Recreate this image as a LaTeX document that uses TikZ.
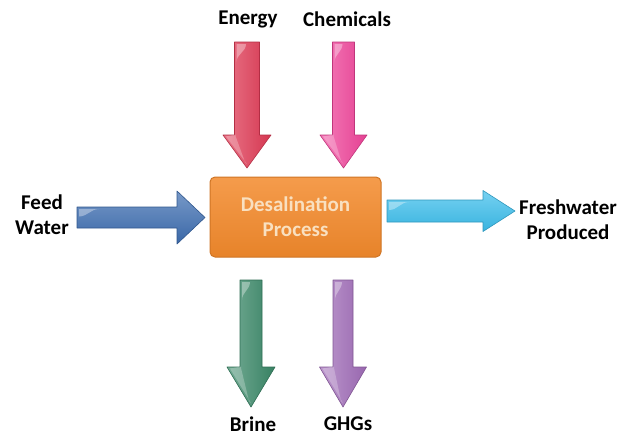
\documentclass[tikz,border=0pt]{standalone}
\usepackage{fontspec}
\setmainfont{Carlito}
\definecolor{cEnergy}{HTML}{E03A55}
\definecolor{cChem}{HTML}{F0449A}
\definecolor{cFeed}{HTML}{3D6DB0}
\definecolor{cFresh}{HTML}{3BBDEB}
\definecolor{cBrine}{HTML}{3A8868}
\definecolor{cGHG}{HTML}{A06CB8}
\definecolor{cBox}{HTML}{F38A2C}
\definecolor{cBoxText}{HTML}{F9E0C0}
% #1 colour, #2 cx, #3 shaft half, #4 head half, #5 top, #6 head start, #7 tip
\newcommand{\vflow}[7]{%
  \shade[left color=#1!70!white, right color=#1!95!black, draw=#1!80!black, line width=0.6pt, line join=round]
    (#2-#3,#5) -- (#2+#3,#5) -- (#2+#3,#6) -- (#2+#4,#6) -- (#2,#7) -- (#2-#4,#6) -- (#2-#3,#6) -- cycle;
  \fill[white, opacity=0.35] (#2-#3+2,#5+2) -- (#2-1,#5+2) to[out=-90,in=90] (#2-#3+2,#5+20) -- cycle;
  \fill[white, opacity=0.25] (#2-#3+1,#6+1) -- (#2-#3+1,#6-0.5) -- (#2-#4+3,#6+1.5) -- (#2,#7-4) -- (#2-2,#7-6) -- cycle;
}
% #1 colour, #2 cy, #3 shaft half, #4 head half, #5 left, #6 head start, #7 tip
\newcommand{\hflow}[7]{%
  \shade[top color=#1!70!white, bottom color=#1!95!black, draw=#1!80!black, line width=0.6pt, line join=round]
    (#5,#2-#3) -- (#6,#2-#3) -- (#6,#2-#4) -- (#7,#2) -- (#6,#2+#4) -- (#6,#2+#3) -- (#5,#2+#3) -- cycle;
  \fill[white, opacity=0.35] (#5+2,#2-#3+2) -- (#5+2,#2-1) to[out=0,in=180] (#5+22,#2-#3+2) -- cycle;
}
\tikzset{
  lbl/.style={font=\fontsize{21}{25}\selectfont\bfseries, text=black, align=center, inner sep=0pt},
  procbox/.style={rounded corners=5pt, draw=cBox!85!black, line width=1pt, top color=cBox!85!white, bottom color=cBox!95!black,
    minimum width=171pt, minimum height=80pt, font=\fontsize{21}{25}\selectfont\bfseries, text=cBoxText, align=center, inner sep=0pt}
}
\begin{document}
\begin{tikzpicture}[x=1pt,y=-1pt]
\useasboundingbox (0,0) rectangle (623,437);
% process box
\node[procbox] (proc) at (295.5,217) {Desalination\\Process};
% input arrows
\vflow{cEnergy}{247}{12.5}{24}{42}{135}{168}
\vflow{cChem}{343.5}{11}{23.5}{42}{135}{168}
\hflow{cFeed}{217.5}{10.5}{26.5}{77}{177}{205}
% output arrows
\hflow{cFresh}{211}{11}{20.5}{387}{483}{515}
\vflow{cBrine}{251}{11}{24}{280}{367}{407}
\vflow{cGHG}{343}{10}{23.5}{280}{367}{407}
% labels
\node[lbl] (energy) at (248,19) {Energy};
\node[lbl] (chem) at (347,19) {Chemicals};
\node[lbl] (feed) at (42,215) {Feed\\Water};
\node[lbl] (fresh) at (568,220) {Freshwater\\Produced};
\node[lbl] (brine) at (253,424) {Brine};
\node[lbl] (ghg) at (348,424) {GHGs};
\end{tikzpicture}
\end{document}
